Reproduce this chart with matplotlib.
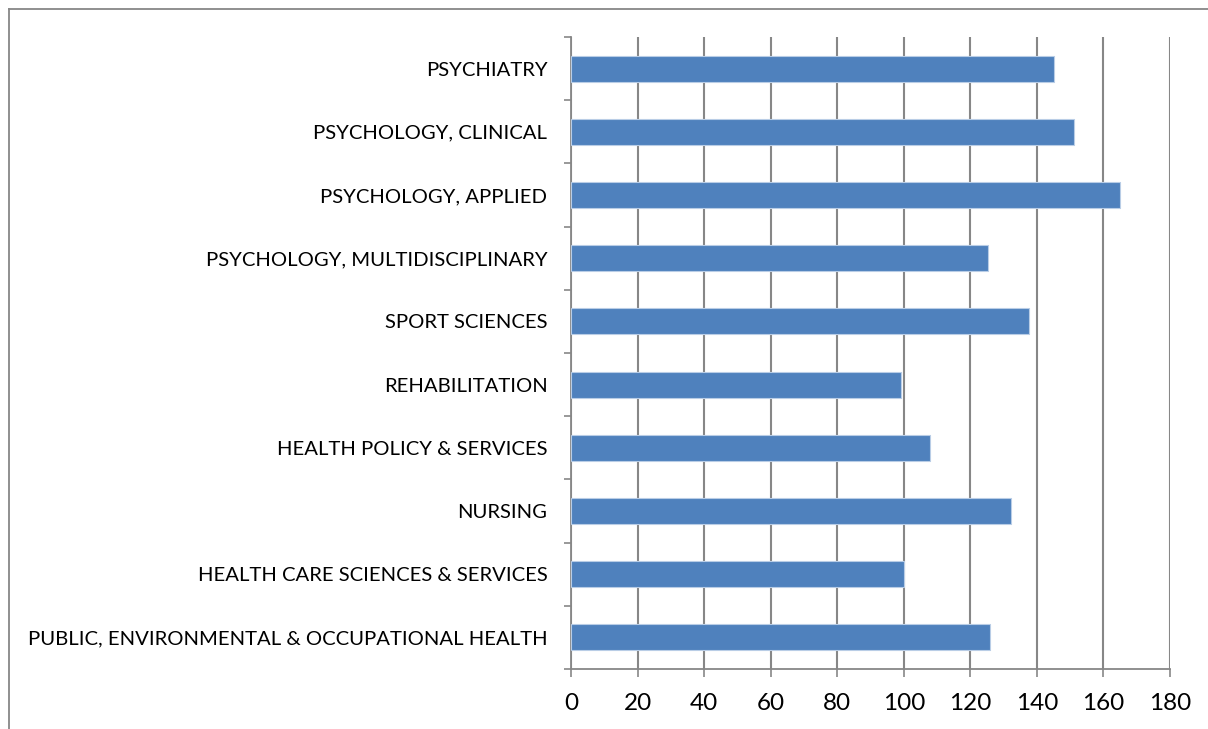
import matplotlib
matplotlib.use("Agg")
import matplotlib.pyplot as plt
from matplotlib.lines import Line2D
import numpy as np

categories = [
    "PUBLIC, ENVIRONMENTAL & OCCUPATIONAL HEALTH",
    "HEALTH CARE SCIENCES & SERVICES",
    "NURSING",
    "HEALTH POLICY & SERVICES",
    "REHABILITATION",
    "SPORT SCIENCES",
    "PSYCHOLOGY, MULTIDISCIPLINARY",
    "PSYCHOLOGY, APPLIED",
    "PSYCHOLOGY, CLINICAL",
    "PSYCHIATRY",
]
values = [126, 100, 132.3, 108, 99.2, 137.5, 125.2, 165, 151.2, 145]
x_ticks = [0, 20, 40, 60, 80, 100, 120, 140, 160, 180]

plt.rcParams['font.family'] = ['Lato', 'DejaVu Sans']

W, H = 1208, 729
fig = plt.figure(figsize=(W / 100, H / 100), dpi=100)
ax = fig.add_axes([571 / W, 1 - 669 / H, (1170 - 571) / W, (669 - 37) / H])

grid_c = "#878787"
y = np.arange(len(categories))
ax.barh(y, values, height=0.41, color="#4F81BD", edgecolor="#b9cde6", linewidth=0.8, zorder=3)

ax.set_xlim(0, 180)
ax.set_ylim(-0.5, len(categories) - 0.5)
ax.set_xticks(x_ticks)
ax.set_xticklabels([str(t) for t in x_ticks], fontsize=17.5)
ax.set_yticks(y)
ax.set_yticklabels(categories, fontsize=14.6)
ax.set_yticks(np.arange(-0.5, len(categories), 1), minor=True)
ax.tick_params(axis='y', which='major', length=0, pad=17)
ax.tick_params(axis='y', which='minor', length=5, width=1.2, color=grid_c, direction='out')
ax.tick_params(axis='x', which='major', length=6, width=1.2, color=grid_c, direction='out', pad=11)

ax.grid(axis='x', color=grid_c, linewidth=1.5, zorder=0)
ax.set_axisbelow(True)
for s in ['top', 'right']:
    ax.spines[s].set_visible(False)
for s in ['left', 'bottom']:
    ax.spines[s].set_color(grid_c)
    ax.spines[s].set_linewidth(1.3)

# outer chart frame (partly cut off)
fig.add_artist(Line2D([8.5 / W, 1], [1 - 8.5 / H, 1 - 8.5 / H], color=grid_c, linewidth=1.3, transform=fig.transFigure))
fig.add_artist(Line2D([8.5 / W, 8.5 / W], [0, 1 - 8.5 / H], color=grid_c, linewidth=1.3, transform=fig.transFigure))

fig.savefig("out.png", dpi=100)
